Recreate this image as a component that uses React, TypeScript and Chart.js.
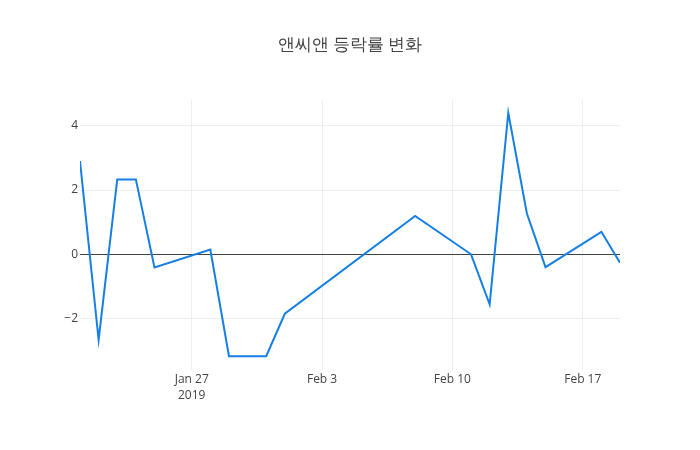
import React, { useEffect, useRef } from "react";
import { Chart, registerables } from "chart.js";

Chart.register(...registerables);

const titleText = "앤씨앤 등락률 변화";

const dates = [
  "2019-01-21", "2019-01-22", "2019-01-23", "2019-01-24", "2019-01-25",
  "2019-01-28", "2019-01-29", "2019-01-30", "2019-01-31", "2019-02-01",
  "2019-02-08", "2019-02-11", "2019-02-12", "2019-02-13", "2019-02-14",
  "2019-02-15", "2019-02-18", "2019-02-19",
];

const changes = [
  2.9, -2.66, 2.33, 2.33, -0.41,
  0.15, -3.17, -3.17, -3.17, -1.85,
  1.19, 0.0, -1.56, 4.4, 1.27,
  -0.4, 0.7, -0.26,
];

const xTickDates = ["2019-01-27", "2019-02-03", "2019-02-10", "2019-02-17"];
const xTickLabels: (string | string[])[] = [["Jan 27", "2019"], "Feb 3", "Feb 10", "Feb 17"];
const yTicks = [-2, 0, 2, 4];
const yMin = -3.6;
const yMax = 4.8;

const DAY = 86400000;
const toDay = (s: string) => {
  const [y, m, d] = s.split("-").map(Number);
  return Date.UTC(y, m - 1, d) / DAY;
};

const FONT = "'Open Sans', verdana, arial, sans-serif";

export default function App() {
  const ref = useRef<HTMLCanvasElement | null>(null);

  useEffect(() => {
    document.body.style.margin = "0";
    const canvas = ref.current;
    if (!canvas) return;

    const xs = dates.map(toDay);
    const tickDays = xTickDates.map(toDay);

    const titlePlugin = {
      id: "plotTitle",
      afterDraw(chart: any) {
        const c = chart.ctx;
        c.save();
        c.font = `17px ${FONT}`;
        c.fillStyle = "#444";
        c.textAlign = "center";
        c.textBaseline = "middle";
        c.fillText(titleText, 350, 45);
        c.restore();
      },
    };

    const chart = new Chart(canvas, {
      type: "line",
      data: {
        datasets: [
          {
            data: xs.map((x, i) => ({ x, y: changes[i] })),
            borderColor: "rgb(22, 127, 230)",
            borderWidth: 2,
            pointRadius: 0,
            fill: false,
            tension: 0,
          },
        ],
      },
      options: {
        animation: false,
        responsive: false,
        maintainAspectRatio: false,
        layout: { padding: { left: 0, right: 80, top: 100, bottom: 0 } },
        plugins: {
          legend: { display: false },
          title: { display: false },
          tooltip: { enabled: false },
        },
        scales: {
          x: {
            type: "linear",
            min: xs[0],
            max: xs[xs.length - 1],
            afterFit(scale: any) {
              scale.height = 80;
            },
            afterBuildTicks(scale: any) {
              scale.ticks = tickDays.map((v) => ({ value: v }));
            },
            border: { display: false },
            grid: { color: "#eee", lineWidth: 1, drawTicks: false },
            ticks: {
              autoSkip: false,
              maxRotation: 0,
              padding: 2,
              color: "#444",
              font: { family: FONT, size: 12, lineHeight: "16px" },
              callback: (v: any) => {
                const i = tickDays.indexOf(Number(v));
                return i >= 0 ? xTickLabels[i] : "";
              },
            },
          },
          y: {
            type: "linear",
            min: yMin,
            max: yMax,
            afterFit(scale: any) {
              scale.width = 80;
            },
            afterBuildTicks(scale: any) {
              scale.ticks = yTicks.map((v) => ({ value: v }));
            },
            border: { display: false },
            grid: {
              drawTicks: false,
              lineWidth: 1,
              color: (ctx: any) => (ctx.tick && ctx.tick.value === 0 ? "#444" : "#eee"),
            },
            ticks: {
              padding: 2,
              color: "#444",
              font: { family: FONT, size: 12 },
              callback: (v: any) => {
                const n = Number(v);
                return n < 0 ? "\u2212" + Math.abs(n) : String(n);
              },
            },
          },
        },
      },
      plugins: [titlePlugin],
    } as any);

    return () => chart.destroy();
  }, []);

  return (
    <div style={{ width: 700, height: 450, background: "#fff" }}>
      <canvas ref={ref} width={700} height={450} style={{ display: "block" }} />
    </div>
  );
}
